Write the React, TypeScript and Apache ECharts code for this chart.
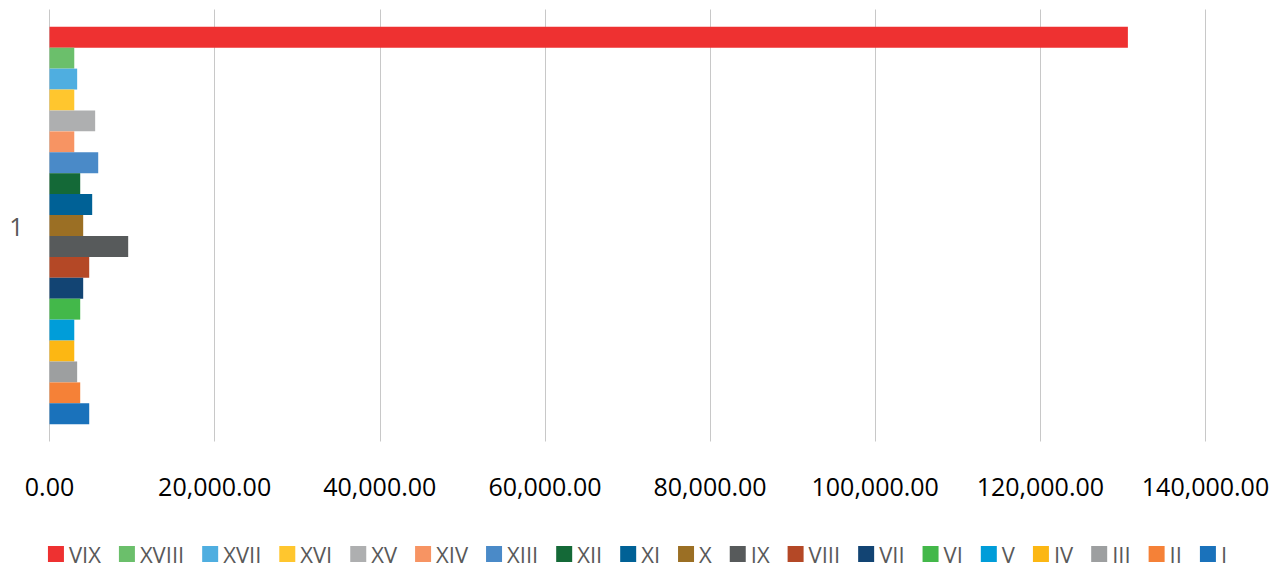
import React, { useEffect, useRef } from "react";
import * as echarts from "echarts";

const categories = ["1"];
const seriesNames = ["VIX", "XVIII", "XVII", "XVI", "XV", "XIV", "XIII", "XII", "XI", "X", "IX", "VIII", "VII", "VI", "V", "IV", "III", "II", "I"];
const seriesValues = [130600, 3000, 3350, 3000, 5530, 3000, 5900, 3720, 5170, 4080, 9530, 4810, 4080, 3720, 3000, 3000, 3350, 3720, 4810];
const seriesColors = ["#EE3131", "#6BBF6B", "#4FAEE0", "#FFC62E", "#AEAFB0", "#F79463", "#4A8AC8", "#146937", "#006196", "#9B6F24", "#575A5B", "#B44826", "#124473", "#43B84A", "#009DD9", "#FCB713", "#9D9FA0", "#F58137", "#1A72BB"];
const xTicks = { min: 0, max: 140000, interval: 20000 };

export default function App() {
  const ref = useRef<HTMLDivElement>(null);
  useEffect(() => {
    document.body.style.margin = "0";
    const chart = echarts.init(ref.current!, null, { renderer: "svg" });
    const font = "'Open Sans', sans-serif";
    chart.setOption({
      animation: false,
      grid: { left: 49.5, right: 69.5, top: 9.5, bottom: 130.5, containLabel: false },
      legend: {
        data: seriesNames,
        top: 538,
        left: "center",
        itemWidth: 16,
        itemHeight: 16,
        itemGap: 18,
        icon: "rect",
        textStyle: { color: "#595959", fontSize: 22, lineHeight: 22, fontFamily: font },
      },
      xAxis: {
        type: "value",
        min: xTicks.min,
        max: xTicks.max,
        interval: xTicks.interval,
        axisLine: { show: false },
        axisTick: { show: false },
        splitLine: { show: true, lineStyle: { color: "#C8C8C8", width: 1 } },
        axisLabel: {
          margin: 32,
          color: "#000000",
          fontSize: 25,
          fontFamily: font,
          formatter: (v: number) =>
            v.toLocaleString("en-US", { minimumFractionDigits: 2, maximumFractionDigits: 2 }),
        },
      },
      yAxis: {
        type: "category",
        data: categories,
        inverse: true,
        axisLine: { show: false },
        axisTick: { show: false },
        axisLabel: { color: "#595959", fontSize: 25, fontFamily: font, margin: 26 },
      },
      series: seriesNames.map((name, i) => ({
        name,
        type: "bar",
        data: [seriesValues[i]],
        itemStyle: { color: seriesColors[i] },
        barGap: "0%",
        barCategoryGap: "8%",
      })),
    });
    return () => chart.dispose();
  }, []);
  return <div ref={ref} style={{ width: 1275, height: 572 }} />;
}
